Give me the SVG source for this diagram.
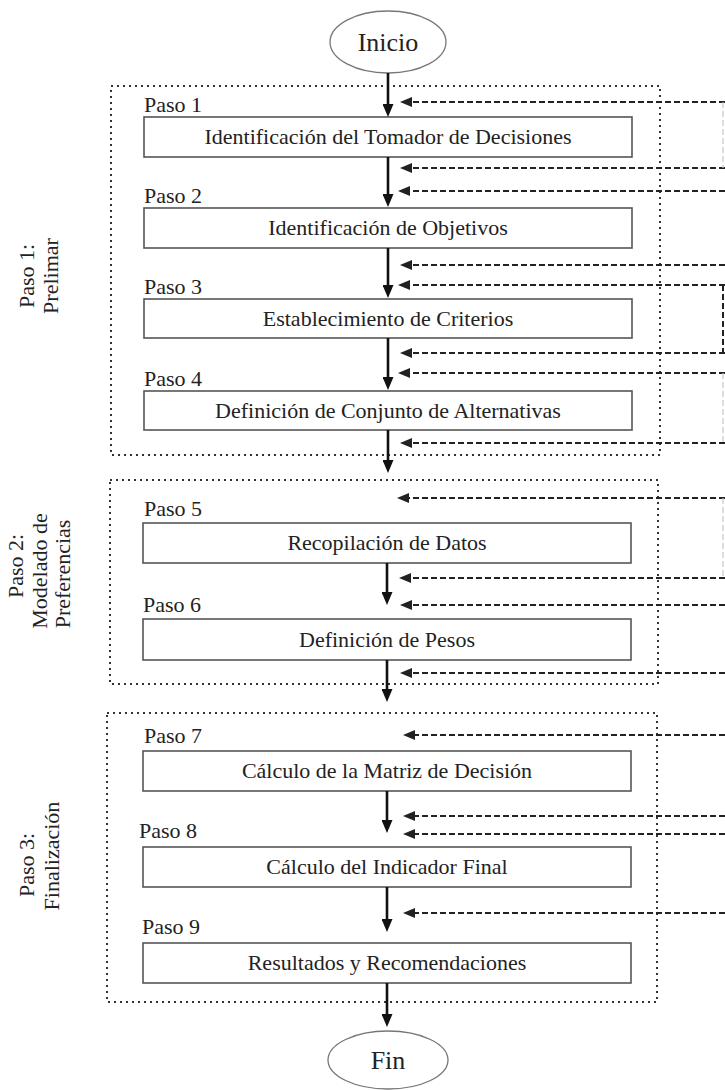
<svg xmlns="http://www.w3.org/2000/svg" width="725" height="1090" viewBox="0 0 725 1090">
<style>
.bg{fill:#ffffff}
.phase{fill:none;stroke:#333;stroke-width:2;stroke-dasharray:2 4}
.step{fill:#fff;stroke:#555;stroke-width:1.6}
.term{fill:#fff;stroke:#777;stroke-width:1.3}
.t{font-family:"Liberation Serif","Times New Roman",serif;font-size:22px;fill:#222}
.tm{text-anchor:middle}
.big{font-size:26px}
.flow{stroke:#111;stroke-width:2.6;fill:none;marker-end:url(#ah)}
.fb{stroke:#222;stroke-width:2;stroke-dasharray:6 3;fill:none;marker-end:url(#ahs)}
.fbv{stroke:#222;stroke-width:2;stroke-dasharray:6 3;fill:none}
.fbf{stroke:#c8c8c8;stroke-width:1.2;stroke-dasharray:6 3;fill:none}
</style>
<defs>
<marker id="ah" markerUnits="userSpaceOnUse" viewBox="0 0 13 11" refX="3" refY="5.5" markerWidth="13" markerHeight="11" orient="auto">
<path d="M0,0 L13,5.5 L0,11 z" fill="#111"/>
</marker>
<marker id="ahs" markerUnits="userSpaceOnUse" viewBox="0 0 12 10" refX="3" refY="5" markerWidth="12" markerHeight="10" orient="auto">
<path d="M0,0 L12,5 L0,10 z" fill="#222"/>
</marker>
</defs>
<rect class="bg" x="0" y="0" width="725" height="1090"/>

<g id="phase1">
<rect class="phase" x="111" y="86" width="549" height="369"/>
<text class="t tm" transform="translate(34,276) rotate(-90)">Paso 1:</text>
<text class="t tm" transform="translate(58,276) rotate(-90)">Prelimar</text>
</g>
<g id="phase2">
<rect class="phase" x="110" y="480" width="548" height="204"/>
<text class="t tm" transform="translate(23,566) rotate(-90)">Paso 2:</text>
<text class="t tm" transform="translate(47,571) rotate(-90)">Modelado de</text>
<text class="t tm" transform="translate(70,574) rotate(-90)">Preferencias</text>
</g>
<g id="phase3">
<rect class="phase" x="107" y="713" width="550" height="289"/>
<text class="t tm" transform="translate(34,865) rotate(-90)">Paso 3:</text>
<text class="t tm" transform="translate(59,856) rotate(-90)">Finalización</text>
</g>

<g id="inicio">
<ellipse class="term" cx="388" cy="42" rx="58" ry="31"/>
<text class="t tm big" x="388" y="51">Inicio</text>
</g>
<g id="step1">
<text class="t" x="144" y="112">Paso 1</text>
<rect class="step" x="144" y="117" width="488" height="40"/>
<text class="t tm" x="388" y="144">Identificación del Tomador de Decisiones</text>
</g>
<g id="step2">
<text class="t" x="144" y="203">Paso 2</text>
<rect class="step" x="144" y="208" width="488" height="40"/>
<text class="t tm" x="388" y="235">Identificación de Objetivos</text>
</g>
<g id="step3">
<text class="t" x="144" y="294">Paso 3</text>
<rect class="step" x="144" y="299" width="488" height="39"/>
<text class="t tm" x="388" y="326">Establecimiento de Criterios</text>
</g>
<g id="step4">
<text class="t" x="144" y="386">Paso 4</text>
<rect class="step" x="144" y="391" width="488" height="39"/>
<text class="t tm" x="388" y="418">Definición de Conjunto de Alternativas</text>
</g>
<g id="step5">
<text class="t" x="144" y="516">Paso 5</text>
<rect class="step" x="143" y="523" width="488" height="40"/>
<text class="t tm" x="387" y="550">Recopilación de Datos</text>
</g>
<g id="step6">
<text class="t" x="143" y="612">Paso 6</text>
<rect class="step" x="143" y="619" width="488" height="41"/>
<text class="t tm" x="387" y="647">Definición de Pesos</text>
</g>
<g id="step7">
<text class="t" x="144" y="743">Paso 7</text>
<rect class="step" x="143" y="751" width="488" height="40"/>
<text class="t tm" x="387" y="778">Cálculo de la Matriz de Decisión</text>
</g>
<g id="step8">
<text class="t" x="139" y="838">Paso 8</text>
<rect class="step" x="143" y="847" width="488" height="40"/>
<text class="t tm" x="387" y="874">Cálculo del Indicador Final</text>
</g>
<g id="step9">
<text class="t" x="142" y="934">Paso 9</text>
<rect class="step" x="143" y="943" width="488" height="40"/>
<text class="t tm" x="387" y="970">Resultados y Recomendaciones</text>
</g>
<g id="fin">
<ellipse class="term" cx="388" cy="1060" rx="60" ry="29"/>
<text class="t tm big" x="388" y="1069">Fin</text>
</g>

<g id="connectors">
<line class="flow" x1="388" y1="73" x2="388" y2="107"/>
<line class="flow" x1="388" y1="157" x2="388" y2="197"/>
<line class="flow" x1="388" y1="248" x2="388" y2="288"/>
<line class="flow" x1="388" y1="338" x2="388" y2="380"/>
<line class="flow" x1="388" y1="430" x2="388" y2="463"/>
<line class="flow" x1="387" y1="563" x2="387" y2="595"/>
<line class="flow" x1="387" y1="660" x2="387" y2="692"/>
<line class="flow" x1="387" y1="791" x2="387" y2="823"/>
<line class="flow" x1="387" y1="887" x2="387" y2="922"/>
<line class="flow" x1="387" y1="983" x2="387" y2="1017"/>

<line class="fb" x1="725" y1="102" x2="409" y2="102"/>
<line class="fb" x1="725" y1="168" x2="409" y2="168"/>
<line class="fb" x1="725" y1="191" x2="407" y2="191"/>
<line class="fb" x1="725" y1="265" x2="409" y2="265"/>
<line class="fb" x1="725" y1="285" x2="407" y2="285"/>
<line class="fb" x1="725" y1="353" x2="409" y2="353"/>
<line class="fb" x1="725" y1="373" x2="407" y2="373"/>
<line class="fb" x1="725" y1="443" x2="409" y2="443"/>
<line class="fb" x1="725" y1="498" x2="406" y2="498"/>
<line class="fb" x1="725" y1="578" x2="408" y2="578"/>
<line class="fb" x1="725" y1="605" x2="409" y2="605"/>
<line class="fb" x1="725" y1="673" x2="409" y2="673"/>
<line class="fb" x1="725" y1="735" x2="412" y2="735"/>
<line class="fb" x1="725" y1="816" x2="412" y2="816"/>
<line class="fb" x1="725" y1="834" x2="412" y2="834"/>
<line class="fb" x1="725" y1="913" x2="412" y2="913"/>

<line class="fbv" x1="723" y1="285" x2="723" y2="353"/>
<line class="fbf" x1="723" y1="102" x2="723" y2="168"/>
<line class="fbf" x1="723" y1="373" x2="723" y2="443"/>
<line class="fbf" x1="723" y1="498" x2="723" y2="578"/>
</g>
</svg>
